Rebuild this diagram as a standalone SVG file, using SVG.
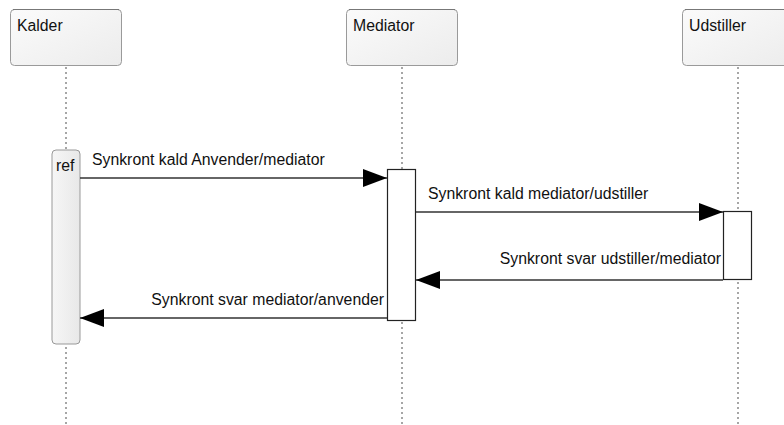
<svg xmlns="http://www.w3.org/2000/svg" width="784" height="425" viewBox="0 0 784 425">
<defs>
<linearGradient id="hdr" x1="0" y1="0" x2="1" y2="1">
<stop offset="0" stop-color="#fbfbfb"/>
<stop offset="1" stop-color="#ececec"/>
</linearGradient>
<linearGradient id="refg" x1="0" y1="0" x2="1" y2="0">
<stop offset="0" stop-color="#f6f6f6"/>
<stop offset="1" stop-color="#e8e8e8"/>
</linearGradient>
<marker id="ah" viewBox="0 0 24 18" refX="24" refY="9" markerWidth="24" markerHeight="18" markerUnits="userSpaceOnUse" orient="auto">
<path d="M0,0 L24,9 L0,18 Z" fill="#000"/>
</marker>
</defs>
<style>
.hdr{fill:url(#hdr);stroke:#9a9a9a;stroke-width:1}
.life{stroke:#777;stroke-width:1.3;stroke-dasharray:2,3;fill:none}
.act{fill:#fff;stroke:#222;stroke-width:1.2}
.msg{stroke:#333;stroke-width:1.3;fill:none;marker-end:url(#ah)}
text{font-family:"Liberation Sans",Arial,sans-serif;font-size:15.8px;fill:#111}
</style>
<rect width="784" height="425" fill="#fff"/>
<g id="lifelines">
<line class="life" x1="66" y1="67" x2="66" y2="425"/>
<line class="life" x1="402" y1="67" x2="402" y2="425"/>
<line class="life" x1="738" y1="67" x2="738" y2="425"/>
</g>
<g id="Kalder">
<rect class="hdr" x="10.5" y="9.5" width="111" height="56" rx="4"/>
<line x1="13" y1="9.5" x2="119" y2="9.5" stroke="#777" stroke-width="1"/>
<text x="17" y="31">Kalder</text>
</g>
<g id="Mediator">
<rect class="hdr" x="346.5" y="9.5" width="111" height="56" rx="4"/>
<line x1="349" y1="9.5" x2="455" y2="9.5" stroke="#777" stroke-width="1"/>
<text x="353" y="31">Mediator</text>
</g>
<g id="Udstiller">
<rect class="hdr" x="682.5" y="9.5" width="111" height="56" rx="4"/>
<line x1="685" y1="9.5" x2="791" y2="9.5" stroke="#777" stroke-width="1"/>
<text x="689" y="31">Udstiller</text>
</g>
<g id="ref">
<rect x="52" y="150" width="28" height="194" rx="4" fill="url(#refg)" stroke="#999" stroke-width="1"/>
<text x="56" y="171">ref</text>
</g>
<g id="MediatorActivation">
<rect class="act" x="387.5" y="169.5" width="28" height="151"/>
</g>
<g id="UdstillerActivation">
<rect class="act" x="723.5" y="211.5" width="28" height="68"/>
</g>
<g id="connectors">
<line class="msg" x1="80" y1="178" x2="387" y2="178"/>
<text x="92" y="165">Synkront kald Anvender/mediator</text>
<line class="msg" x1="416" y1="212" x2="723" y2="212"/>
<text x="428" y="199">Synkront kald mediator/udstiller</text>
<line class="msg" x1="723" y1="280" x2="416" y2="280"/>
<text x="721" y="264" text-anchor="end">Synkront svar udstiller/mediator</text>
<line class="msg" x1="387" y1="318" x2="80" y2="318"/>
<text x="384" y="305" text-anchor="end">Synkront svar mediator/anvender</text>
</g>
</svg>
